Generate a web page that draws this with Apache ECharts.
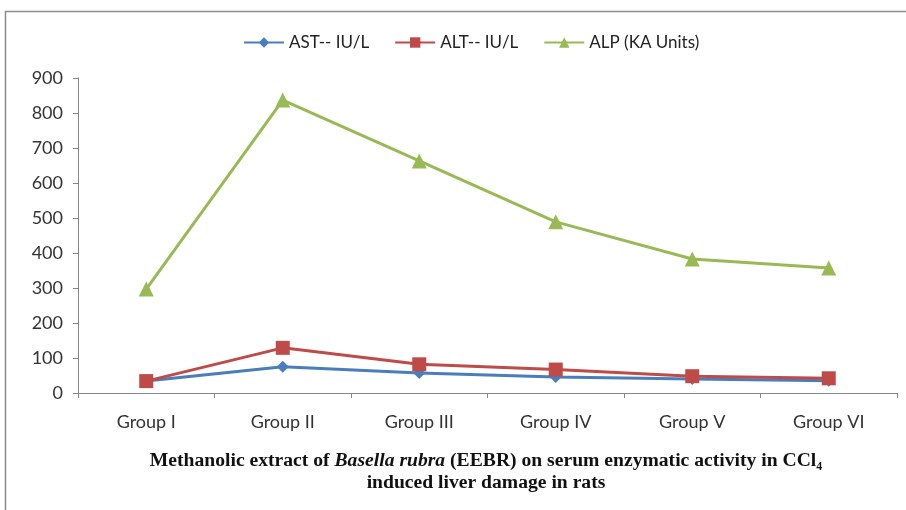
<!DOCTYPE html>
<html>
<head>
<meta charset="utf-8">
<script src="https://cdn.jsdelivr.net/npm/echarts@6/dist/echarts.min.js"></script>
<style>
  html, body { margin: 0; padding: 0; background: #fff; }
  #chart { width: 906px; height: 510px; }
</style>
</head>
<body>
<div id="chart"></div>
<script>
// DATA
var groups = ["Group I", "Group II", "Group III", "Group IV", "Group V", "Group VI"];
var ast = [34, 75, 57, 46, 40, 35];
var alt = [34, 129, 82, 67, 48, 42];
var alp = [297, 837, 663, 489, 383, 357];
var yTicks = { min: 0, max: 900, step: 100 };

// CHART
var chart = echarts.init(document.getElementById("chart"));

var labelFont = "Lato, 'Open Sans', sans-serif";
var serifFont = "'Liberation Serif', serif";

function serie(name, values, color, symbol, size) {
  return {
    name: name,
    type: "line",
    data: values,
    symbol: symbol,
    symbolSize: size,
    lineStyle: { color: color, width: 3 },
    itemStyle: { color: color },
    emphasis: { disabled: true },
    z: 3
  };
}

chart.setOption({
  animation: false,
  backgroundColor: "#fff",
  legend: {
    top: 29,
    left: 238,
    itemWidth: 40,
    itemHeight: 13,
    itemGap: 25,
    textStyle: { fontFamily: labelFont, fontSize: 17, color: "#222" },
    data: ["AST-- IU/L", "ALT-- IU/L", "ALP (KA Units)"]
  },
  grid: { left: 78, right: 9, top: 78, bottom: 117 },
  xAxis: {
    type: "category",
    data: groups,
    boundaryGap: true,
    axisLine: { lineStyle: { color: "#868686", width: 1 } },
    axisTick: { show: true, length: 5, lineStyle: { color: "#868686" } },
    axisLabel: { fontFamily: labelFont, fontSize: 18, color: "#333", margin: 20 },
    splitLine: { show: false }
  },
  yAxis: {
    type: "value",
    min: yTicks.min,
    max: yTicks.max,
    interval: yTicks.step,
    axisLine: { show: true, lineStyle: { color: "#868686", width: 1 } },
    axisTick: { show: true, length: 5, lineStyle: { color: "#868686" } },
    axisLabel: { fontFamily: labelFont, fontSize: 18, color: "#333", margin: 15 },
    splitLine: { show: false }
  },
  graphic: [
    {
      type: "rect",
      shape: { x: 5.5, y: 11.5, width: 940, height: 540 },
      style: { fill: null, stroke: "#8a8a8a", lineWidth: 1.5 },
      silent: true,
      z: 0
    },
    {
      type: "text",
      x: 486,
      y: 461,
      scaleX: 1.09,
      style: {
        text: "{b|Methanolic extract of }{i|Basella rubra}{b| (EEBR) on serum enzymatic activity in CCl₄}",
        align: "center",
        verticalAlign: "middle",
        rich: {
          b: { font: "bold 18px " + serifFont, fill: "#111" },
          i: { font: "italic bold 18px " + serifFont, fill: "#111" }
        }
      },
      silent: true
    },
    {
      type: "text",
      x: 486,
      y: 483,
      scaleX: 1.09,
      style: {
        text: "induced liver damage in rats",
        align: "center",
        verticalAlign: "middle",
        font: "bold 18px " + serifFont,
        fill: "#111"
      },
      silent: true
    }
  ],
  series: [
    serie("AST-- IU/L", ast, "#4a7ebb", "diamond", 12),
    serie("ALT-- IU/L", alt, "#be4b48", "rect", 14),
    serie("ALP (KA Units)", alp, "#98b954", "triangle", 15)
  ]
});
</script>
</body>
</html>
